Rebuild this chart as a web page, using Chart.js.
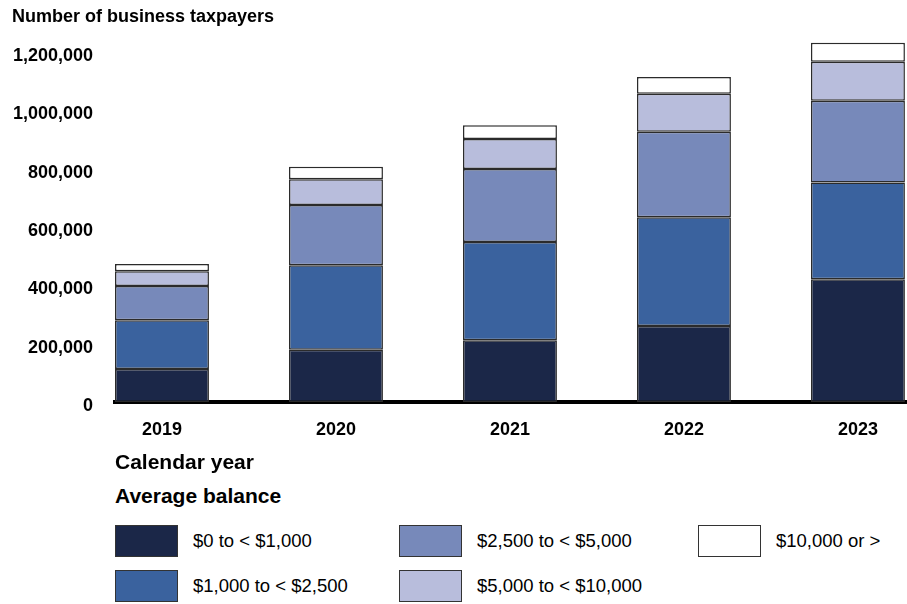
<!DOCTYPE html>
<html>
<head>
<meta charset="utf-8">
<script src="https://cdn.jsdelivr.net/npm/chart.js@4.4.1/dist/chart.umd.min.js"></script>
<style>
    body { margin: 0; background: #fff; font-family: "Liberation Sans", Arial, sans-serif; }
    .page { position: relative; width: 907px; height: 604px; overflow: hidden; }
    .chart-box { position: absolute; left: 0; top: 0; width: 907px; height: 478px; }
    .legend-title { position: absolute; left: 115px; top: 484px; font-size: 21px; font-weight: bold; line-height: 24px; color: #000; }
    .legend { position: absolute; left: 115px; top: 524px; display: grid; grid-template-columns: 284px 299px auto; grid-template-rows: 33px 33px; grid-auto-flow: column; row-gap: 12px; }
    .legend-item { display: flex; align-items: center; font-size: 18.5px; color: #000; }
    .legend-item span.box { width: 61px; height: 30px; border: 1.5px solid #333; margin-right: 15px; }
</style>
</head>
<body>
<div class="page">
    <div class="chart-box"><canvas id="chart"></canvas></div>
    <div class="legend-title">Average balance</div>
    <div class="legend" id="legend"></div>
</div>
<script>
// Dados do gráfico
const years = [2019, 2020, 2021, 2022, 2023];
const yTicks = [0, 200000, 400000, 600000, 800000, 1000000, 1200000];
const seriesNames = ['$0 to < $1,000', '$1,000 to < $2,500', '$2,500 to < $5,000', '$5,000 to < $10,000', '$10,000 or >'];
const seriesColors = ['#1b2748', '#3a629e', '#7789ba', '#b8bddc', '#ffffff'];

const under1k = [113000, 179000, 212000, 261000, 421000];
const from1kTo2_5k = [167000, 290000, 337000, 373000, 332000];
const from2_5kTo5k = [118000, 207000, 250000, 293000, 280000];
const from5kTo10k = [50000, 88000, 103000, 130000, 134000];
const over10k = [25000, 43000, 47000, 58000, 65000];

const seriesValues = [under1k, from1kTo2_5k, from2_5kTo5k, from5kTo10k, over10k];

Chart.defaults.font.family = '"Liberation Sans", Arial, sans-serif';
Chart.defaults.color = '#000';

const datasets = seriesNames.map((name, i) => ({
    label: name,
    data: seriesValues[i],
    backgroundColor: seriesColors[i],
    borderColor: '#2b2b2b',
    borderWidth: 1.5,
    borderSkipped: false,
    categoryPercentage: 1,
    barPercentage: 0.54
}));

new Chart(document.getElementById('chart'), {
    type: 'bar',
    data: { labels: years, datasets: datasets },
    options: {
        responsive: true,
        maintainAspectRatio: false,
        animation: false,
        layout: { padding: { left: 12, right: 0, top: 0, bottom: 2 } },
        plugins: {
            legend: { display: false },
            tooltip: { enabled: false },
            title: {
                display: true,
                text: 'Number of business taxpayers',
                align: 'start',
                color: '#000',
                font: { size: 18, weight: 'bold' },
                padding: { top: 6, bottom: 7 }
            }
        },
        scales: {
            x: {
                type: 'linear',
                stacked: true,
                offset: false,
                min: 2018.73,
                max: 2023.282,
                afterBuildTicks: (scale) => { scale.ticks = years.map(v => ({ value: v })); },
                afterFit: (scale) => { scale.height = 74; },
                grid: { display: false, drawTicks: false },
                border: { display: true, color: '#000', width: 4 },
                ticks: {
                    padding: 17,
                    maxRotation: 0,
                    font: { size: 18, weight: 'bold' },
                    callback: (v) => String(v)
                },
                title: {
                    display: true,
                    text: 'Calendar year',
                    align: 'start',
                    color: '#000',
                    font: { size: 21, weight: 'bold' },
                    padding: { top: 0, bottom: 0 }
                }
            },
            y: {
                stacked: true,
                min: 0,
                max: 1260000,
                afterBuildTicks: (scale) => { scale.ticks = yTicks.map(v => ({ value: v })); },
                afterFit: (scale) => { scale.width = 103; },
                grid: { display: false, drawTicks: false },
                border: { display: false },
                ticks: {
                    padding: 22,
                    labelOffset: 4,
                    font: { size: 18, weight: 'bold' },
                    callback: (v) => v.toLocaleString('en-US')
                }
            }
        }
    }
});

// Legenda em HTML
document.getElementById('legend').innerHTML = seriesNames.map((name, i) => `
    <div class="legend-item"><span class="box" style="background:${seriesColors[i]}"></span>${name}</div>
`).join('');
</script>
</body>
</html>
